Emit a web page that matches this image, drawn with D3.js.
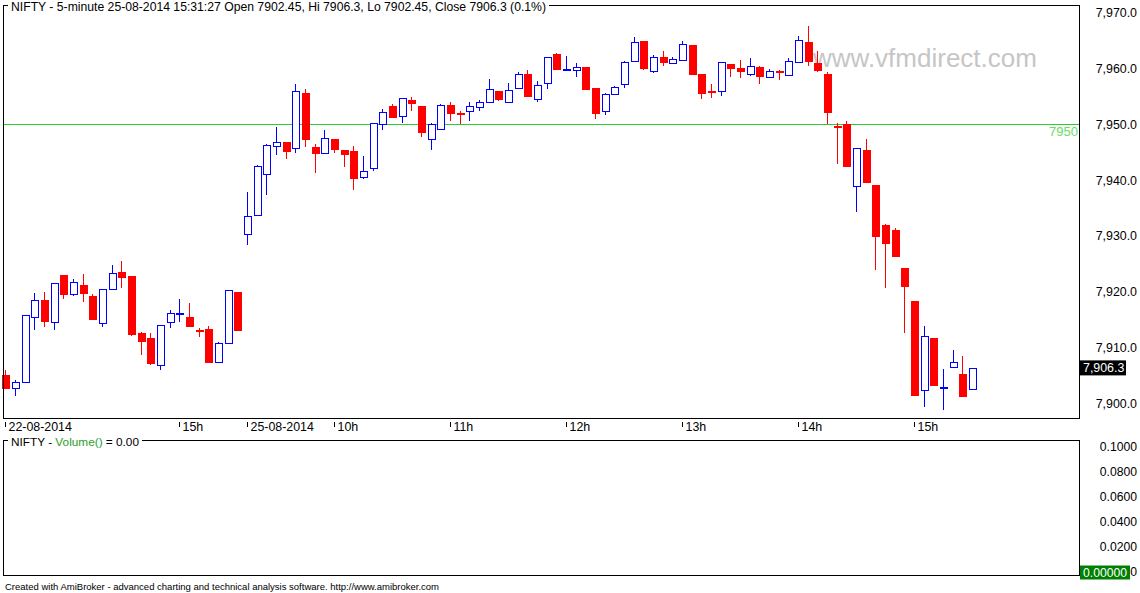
<!DOCTYPE html>
<html>
<head>
<meta charset="utf-8">
<script src="https://cdn.jsdelivr.net/npm/d3@7"></script>
<style>
  body { margin: 0; background: #fff; }
  svg { display: block; font-family: "Liberation Sans", Arial, sans-serif; }
</style>
</head>
<body>
<div id="chart"></div>
<script>
const width = 1140, height = 593;

// 5-minute bars: 22-08-2014 13:30..15:30, then 25-08-2014 09:15..15:30
const opens = [
  7905.0, 7902.7, 7903.8, 7915.4, 7918.5, 7914.5, 7923.0, 7919.6, 7921.2, 7919.2,
  7914.4, 7920.5, 7923.5, 7922.8, 7912.6, 7911.7, 7906.8, 7914.4, 7915.9, 7915.4,
  7913.0, 7913.3, 7907.4, 7910.8, 7919.9,
  7930.3, 7933.7, 7941.0, 7946.1, 7946.8, 7945.7, 7955.6, 7945.9, 7944.8, 7947.4,
  7945.4, 7945.2, 7940.7, 7942.1, 7950.1, 7953.3, 7951.6, 7954.4, 7953.3, 7947.3,
  7949.1, 7953.5, 7951.8, 7952.4, 7953.1, 7954.0, 7956.0, 7954.0, 7956.5, 7959.0,
  7954.5, 7957.4, 7962.6, 7959.6, 7959.7, 7960.3, 7956.5, 7952.4, 7955.4, 7957.2,
  7961.4, 7964.9, 7959.6, 7962.1, 7961.0, 7961.5, 7964.2, 7959.0, 7955.8, 7956.0,
  7960.8, 7960.1, 7959.0, 7960.3, 7958.5, 7959.4, 7958.9, 7961.2, 7964.8, 7961.0,
  7959.0, 7949.7, 7950.1, 7938.8, 7945.4, 7939.1, 7931.9, 7931.0, 7924.2, 7918.3,
  7902.3, 7911.7, 7902.6, 7906.5, 7905.2, 7902.45
];
const highs = [
  7905.9, 7904.1, 7915.8, 7919.7, 7919.9, 7921.5, 7923.0, 7922.2, 7923.1, 7919.6,
  7920.5, 7924.8, 7925.5, 7922.8, 7912.7, 7912.6, 7914.0, 7916.7, 7918.7, 7917.9,
  7913.5, 7913.8, 7910.9, 7920.3, 7919.9,
  7937.9, 7942.7, 7946.5, 7949.5, 7946.8, 7957.2, 7956.3, 7946.5, 7949.0, 7947.4,
  7945.4, 7946.1, 7944.3, 7950.2, 7952.7, 7953.6, 7954.8, 7954.9, 7953.3, 7950.3,
  7953.7, 7954.0, 7952.4, 7954.0, 7954.4, 7958.1, 7956.0, 7957.4, 7959.4, 7959.7,
  7957.8, 7962.1, 7962.8, 7962.3, 7961.0, 7960.3, 7956.5, 7955.6, 7956.9, 7961.4,
  7965.7, 7964.9, 7962.4, 7963.1, 7962.1, 7964.9, 7964.2, 7959.0, 7957.2, 7961.2,
  7960.8, 7961.5, 7961.9, 7960.5, 7959.9, 7959.7, 7961.9, 7965.8, 7967.6, 7963.1,
  7959.4, 7950.2, 7950.6, 7945.7, 7947.4, 7939.1, 7932.1, 7931.4, 7924.2, 7918.3,
  7913.8, 7911.7, 7906.1, 7909.5, 7908.4, 7906.3
];
const lows = [
  7902.5, 7901.3, 7903.6, 7913.1, 7913.6, 7913.1, 7918.7, 7919.2, 7918.1, 7914.9,
  7913.6, 7920.5, 7920.6, 7912.0, 7908.6, 7906.8, 7905.9, 7913.5, 7914.5, 7913.6,
  7911.8, 7907.2, 7907.4, 7910.8, 7912.9,
  7928.3, 7933.7, 7937.4, 7944.5, 7943.8, 7944.9, 7946.0, 7941.3, 7944.8, 7944.9,
  7942.4, 7938.3, 7940.2, 7941.7, 7949.0, 7951.2, 7950.3, 7952.4, 7947.8, 7945.4,
  7949.1, 7950.6, 7950.1, 7950.6, 7952.4, 7954.0, 7954.2, 7954.0, 7956.5, 7954.9,
  7954.0, 7956.3, 7959.7, 7959.6, 7958.5, 7956.2, 7951.0, 7951.7, 7955.4, 7956.5,
  7961.4, 7959.7, 7959.2, 7960.5, 7961.0, 7961.5, 7958.8, 7954.5, 7954.7, 7955.1,
  7958.5, 7958.3, 7958.7, 7957.2, 7958.5, 7957.9, 7958.9, 7961.2, 7960.5, 7959.4,
  7950.1, 7942.9, 7942.3, 7934.3, 7939.5, 7923.9, 7920.6, 7926.2, 7912.6, 7901.3,
  7899.3, 7903.0, 7898.7, 7906.5, 7901.1, 7902.45
];
const closes = [
  7902.5, 7903.8, 7915.8, 7918.5, 7914.5, 7921.5, 7919.4, 7921.7, 7919.6, 7914.9,
  7920.5, 7923.3, 7922.4, 7912.2, 7910.9, 7907.0, 7914.0, 7916.1, 7916.0, 7913.6,
  7912.9, 7907.2, 7910.8, 7920.3, 7912.9,
  7933.5, 7942.5, 7946.2, 7946.8, 7945.1, 7955.9, 7947.2, 7944.7, 7947.5, 7945.4,
  7944.5, 7940.1, 7941.7, 7950.2, 7952.2, 7951.2, 7954.8, 7953.7, 7948.5, 7950.0,
  7953.4, 7951.9, 7951.7, 7953.3, 7954.0, 7956.3, 7954.4, 7956.2, 7959.0, 7954.9,
  7957.1, 7962.1, 7959.7, 7959.7, 7960.3, 7956.2, 7951.8, 7955.4, 7956.7, 7961.2,
  7964.8, 7959.9, 7962.1, 7961.0, 7961.7, 7964.4, 7958.8, 7955.4, 7955.7, 7961.2,
  7959.9, 7959.4, 7960.5, 7958.5, 7959.6, 7959.2, 7961.4, 7965.1, 7961.1, 7959.6,
  7952.0, 7949.3, 7942.3, 7945.7, 7939.5, 7929.8, 7928.5, 7926.2, 7920.8, 7901.3,
  7912.0, 7903.0, 7902.7, 7907.4, 7901.1, 7906.3
];

// x-axis labels (bar index -> label)
const tickIndex  = [0, 18, 25, 34, 46, 58, 70, 82, 94];
const tickLabels = ["22-08-2014", "15h", "25-08-2014", "10h", "11h", "12h", "13h", "14h", "15h"];

const priceTicks  = [7900, 7910, 7920, 7930, 7940, 7950, 7960, 7970];
const volumeTicks = [0, 0.02, 0.04, 0.06, 0.08, 0.1];
const levelLine = 7950;
const lastClose = 7906.3;

const bars = opens.map((o, i) => ({ i: i, o: o, h: highs[i], l: lows[i], c: closes[i] }));

let svg = d3.select('#chart')
  .append('svg')
    .attr('width', width)
    .attr('height', height);

svg.append('rect').attr('width', width).attr('height', height).attr('fill', '#fff');

// Scales
const x = d3.scaleLinear().domain([0, 100]).range([6.3, 973]);
const y = d3.scaleLinear().domain([7900, 7970]).range([403, 12.8]);
const yVol = d3.scaleLinear().domain([0, 0.1]).range([571.5, 446]);

const pLeft = 3.5, pRight = 1079.5, pTop = 5.5, pBottom = 418.5;
const vTop = 440.5, vBottom = 575.5;

// watermark
svg.append('text')
  .attr('x', 813).attr('y', 67)
  .attr('font-size', 26)
  .attr('fill', '#c6c6c6')
  .text('www.vfmdirect.com');

// 7950 level
svg.append('line')
  .attr('x1', pLeft).attr('x2', pRight)
  .attr('y1', Math.round(y(levelLine)) + 0.5).attr('y2', Math.round(y(levelLine)) + 0.5)
  .attr('stroke', '#2ecc2e').attr('stroke-width', 1);
svg.append('text')
  .attr('x', 1078).attr('y', 136)
  .attr('text-anchor', 'end')
  .attr('font-size', 13)
  .attr('fill', '#66dd66')
  .text(levelLine);

// Candles
let candles = svg.append('g').attr('shape-rendering', 'crispEdges');
let g = candles.selectAll('g')
  .data(bars)
  .enter()
  .append('g')
    .attr('class', 'candle');

g.append('line')
  .attr('x1', d => Math.round(x(d.i)) - 0.5)
  .attr('x2', d => Math.round(x(d.i)) - 0.5)
  .attr('y1', d => y(d.h))
  .attr('y2', d => y(d.l))
  .attr('stroke', d => d.c >= d.o ? '#0000ff' : '#ff0000')
  .attr('stroke-width', 1);

g.each(function(d) {
  const cx = Math.round(x(d.i));
  const yTop = y(Math.max(d.o, d.c)), yBot = y(Math.min(d.o, d.c));
  const hgt = yBot - yTop;
  const sel = d3.select(this);
  if (d.c >= d.o) {
    if (hgt < 1.5) {
      sel.append('rect')
        .attr('x', cx - 4).attr('width', 8)
        .attr('y', Math.round(yTop) - 1).attr('height', 2)
        .attr('fill', '#0000ff');
    } else {
      sel.append('rect')
        .attr('x', cx - 3.5).attr('width', 7)
        .attr('y', Math.round(yTop) + 0.5).attr('height', Math.max(1, Math.round(hgt)))
        .attr('fill', '#fff')
        .attr('stroke', '#0000ff').attr('stroke-width', 1);
    }
  } else {
    sel.append('rect')
      .attr('x', cx - 4).attr('width', 8)
      .attr('y', hgt < 2 ? Math.round(yTop) - 1 : yTop)
      .attr('height', Math.max(2, hgt))
      .attr('fill', '#ff0000');
  }
});

// Panel borders
const border = svg.append('g').attr('stroke', '#000').attr('stroke-width', 1).attr('fill', 'none')
  .attr('shape-rendering', 'crispEdges');

function panelTitle(xStart, yBase, size, parts) {
  let t = svg.append('text').attr('x', xStart).attr('y', yBase).attr('font-size', size);
  parts.forEach(p => t.append('tspan').attr('fill', p[1]).text(p[0]));
  return xStart + t.node().getComputedTextLength();
}

const titleEnd = panelTitle(11, 11, 12.2, [["NIFTY - 5-minute 25-08-2014 15:31:27 Open 7902.45, Hi 7906.3, Lo 7902.45, Close 7906.3 (0.1%)", '#000']]);
border.append('path').attr('d',
  `M${pLeft},${pBottom}V${pTop}H8M${titleEnd + 3},${pTop}H${pRight}V${pBottom}H${pLeft}`);

const volEnd = panelTitle(11, 446, 11.8, [["NIFTY - ", '#000'], ["Volume()", '#2a9d2a'], [" = 0.00", '#000']]);
border.append('path').attr('d',
  `M${pLeft},${vBottom}V${vTop}H8M${volEnd + 3},${vTop}H${pRight}V${vBottom}H${pLeft}`);

// X axis ticks + labels
let xt = svg.append('g').attr('class', 'x-axis');
xt.selectAll('line')
  .data(tickIndex)
  .enter()
  .append('line')
    .attr('x1', d => Math.round(x(d)) - 0.5)
    .attr('x2', d => Math.round(x(d)) - 0.5)
    .attr('y1', 422).attr('y2', 427)
    .attr('stroke', '#000')
    .attr('shape-rendering', 'crispEdges');
xt.selectAll('text')
  .data(tickIndex)
  .enter()
  .append('text')
    .attr('x', d => Math.round(x(d)) + 2.5)
    .attr('y', 431)
    .attr('font-size', 12.4)
    .attr('fill', '#000')
    .text((d, i) => tickLabels[i]);

// Price axis labels
const fmt = d3.format(',.1f');
svg.append('g').selectAll('text')
  .data(priceTicks)
  .enter()
  .append('text')
    .attr('x', 1137)
    .attr('y', d => y(d) + 4.5)
    .attr('text-anchor', 'end')
    .attr('font-size', 12.4)
    .attr('fill', '#000')
    .text(d => fmt(d));

// last price box
const ly = y(lastClose);
svg.append('rect')
  .attr('x', 1080).attr('y', ly - 7.5).attr('width', 46).attr('height', 15)
  .attr('fill', '#000');
svg.append('text')
  .attr('x', 1083).attr('y', ly + 4.5)
  .attr('font-size', 12.4).attr('fill', '#fff')
  .text(fmt(lastClose));

// Volume axis labels (the 0 label sits under the green value box; only its last digit shows)
svg.append('g').selectAll('text')
  .data(volumeTicks)
  .enter()
  .append('text')
    .attr('x', 1137)
    .attr('y', d => yVol(d) + 4.5)
    .attr('text-anchor', 'end')
    .attr('font-size', 12.2)
    .attr('fill', '#000')
    .text(d => d === 0 ? '0' : d3.format('.4f')(d));

svg.append('rect')
  .attr('x', 1080).attr('y', yVol(0) - 6).attr('width', 50).attr('height', 14)
  .attr('fill', '#008000');
svg.append('text')
  .attr('x', 1083).attr('y', yVol(0) + 5.5)
  .attr('font-size', 12.2).attr('fill', '#fff')
  .text('0.00000');

// footer
svg.append('text')
  .attr('x', 5).attr('y', 590)
  .attr('font-size', 9.5)
  .attr('fill', '#000')
  .text('Created with AmiBroker - advanced charting and technical analysis software. http://www.amibroker.com');
</script>
</body>
</html>
